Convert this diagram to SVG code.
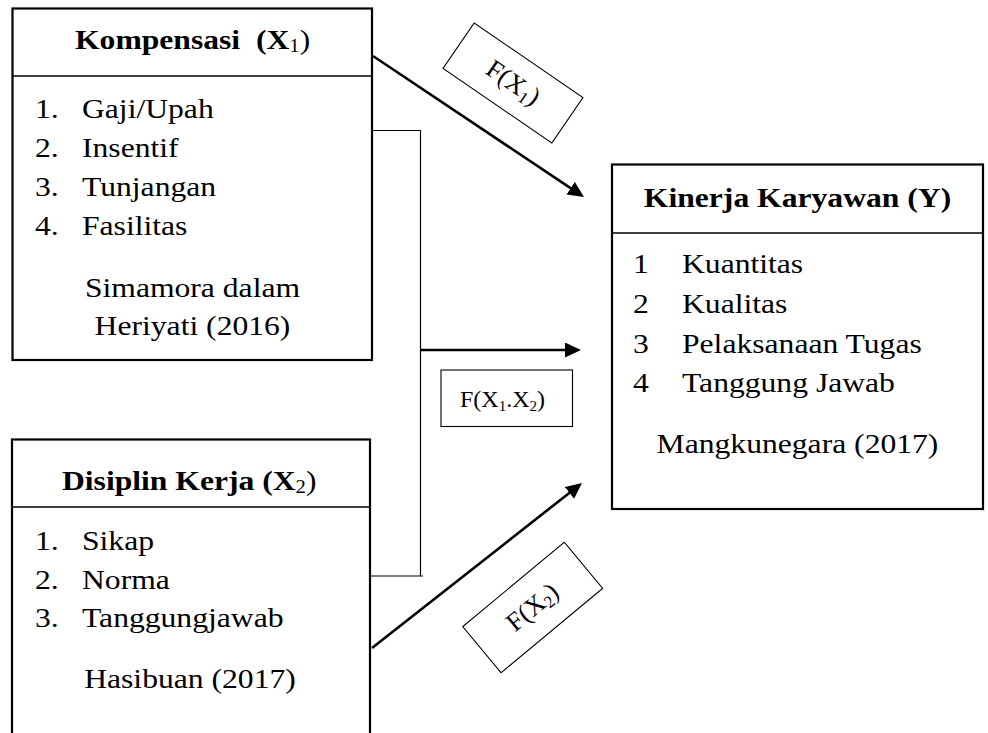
<svg xmlns="http://www.w3.org/2000/svg" width="988" height="733" viewBox="0 0 988 733">
<style>
.box{fill:#fff;stroke:#000;stroke-width:2.2}
.div{stroke:#000;stroke-width:1.3;fill:none}
.thin{stroke:#000;stroke-width:1.2;fill:none}
.arr{stroke:#000;stroke-width:2.6;fill:none}
.lbl{fill:#fff;stroke:#000;stroke-width:1.1}
text{font-family:"Liberation Serif","Times New Roman",serif;font-size:27.5px;fill:#000;white-space:pre}
.b{font-weight:bold}
.n{font-weight:normal}
.sub{font-size:18px;font-weight:normal}
.lt{font-size:24px}
.ls{font-size:15px}
.rt{font-size:26px}
.rs{font-size:17px}
</style>
<defs>
<marker id="ah" markerUnits="userSpaceOnUse" markerWidth="18" markerHeight="16" refX="8" refY="7.5" orient="auto">
<path d="M0,0 L16,7.5 L0,15 z" fill="#000"/>
</marker>
</defs>

<g id="connectors">
<path class="thin" d="M372,130.5 H420.5 V576 M370,576 H423"/>
<line class="arr" x1="373" y1="56" x2="577.3" y2="192.6" marker-end="url(#ah)"/>
<line class="arr" x1="421" y1="350" x2="573" y2="350" marker-end="url(#ah)"/>
<line class="arr" x1="372" y1="648" x2="575.7" y2="487.9" marker-end="url(#ah)"/>
</g>

<g id="node-kompensasi">
<rect class="box" x="12.5" y="8.5" width="359.5" height="351.5"/>
<line class="div" x1="12.5" y1="76" x2="372" y2="76"/>
<text class="b" transform="translate(75 49) scale(1.15 1)">Kompensasi  (X<tspan class="sub" dy="3">1</tspan><tspan class="n" dy="-3">)</tspan></text>
<text transform="translate(35 118) scale(1.15 1)">1.</text>
<text transform="translate(82 118) scale(1.15 1)">Gaji/Upah</text>
<text transform="translate(35 157) scale(1.15 1)">2.</text>
<text transform="translate(82 157) scale(1.15 1)">Insentif</text>
<text transform="translate(35 196) scale(1.15 1)">3.</text>
<text transform="translate(82 196) scale(1.15 1)">Tunjangan</text>
<text transform="translate(35 235) scale(1.15 1)">4.</text>
<text transform="translate(82 235) scale(1.15 1)">Fasilitas</text>
<text text-anchor="middle" transform="translate(192.5 297) scale(1.15 1)">Simamora dalam</text>
<text text-anchor="middle" transform="translate(192.5 335) scale(1.15 1)">Heriyati (2016)</text>
</g>

<g id="node-disiplin">
<rect class="box" x="12" y="439.5" width="358" height="300"/>
<line class="div" x1="12" y1="507" x2="370" y2="507"/>
<text class="b" transform="translate(62 490) scale(1.15 1)">Disiplin Kerja (X<tspan class="sub" dy="3">2</tspan><tspan class="n" dy="-3">)</tspan></text>
<text transform="translate(35 550) scale(1.15 1)">1.</text>
<text transform="translate(82 550) scale(1.15 1)">Sikap</text>
<text transform="translate(35 588.5) scale(1.15 1)">2.</text>
<text transform="translate(82 588.5) scale(1.15 1)">Norma</text>
<text transform="translate(35 627) scale(1.15 1)">3.</text>
<text transform="translate(82 627) scale(1.15 1)">Tanggungjawab</text>
<text text-anchor="middle" transform="translate(190 688) scale(1.15 1)">Hasibuan (2017)</text>
</g>

<g id="node-kinerja">
<rect class="box" x="612" y="164.5" width="371" height="344.5"/>
<line class="div" x1="612" y1="233" x2="983" y2="233"/>
<text class="b" text-anchor="middle" transform="translate(797.5 207) scale(1.15 1)">Kinerja Karyawan (Y)</text>
<text transform="translate(633 273) scale(1.15 1)">1</text>
<text transform="translate(682 273) scale(1.15 1)">Kuantitas</text>
<text transform="translate(633 313) scale(1.15 1)">2</text>
<text transform="translate(682 313) scale(1.15 1)">Kualitas</text>
<text transform="translate(633 353) scale(1.15 1)">3</text>
<text transform="translate(682 353) scale(1.15 1)">Pelaksanaan Tugas</text>
<text transform="translate(633 392) scale(1.15 1)">4</text>
<text transform="translate(682 392) scale(1.15 1)">Tanggung Jawab</text>
<text text-anchor="middle" transform="translate(797.5 453) scale(1.15 1)">Mangkunegara (2017)</text>
</g>

<g id="label-fx1" transform="translate(513 83) rotate(34.5)">
<rect class="lbl" x="-66" y="-27.5" width="132" height="55"/>
<text class="rt" text-anchor="middle" x="0" y="8">F(X<tspan class="rs" dy="4">1</tspan><tspan dy="-4">)</tspan></text>
</g>

<g id="label-fx1x2">
<rect class="lbl" x="441" y="370" width="131.5" height="56.5"/>
<text class="lt" x="460" y="407">F(X<tspan class="ls" dy="4">1</tspan><tspan dy="-4">.X</tspan><tspan class="ls" dy="4">2</tspan><tspan dy="-4">)</tspan></text>
</g>

<g id="label-fx2" transform="translate(532.7 607.5) rotate(-39.7)">
<rect class="lbl" x="-66" y="-30" width="132" height="60"/>
<text class="rt" text-anchor="middle" x="0" y="8">F(X<tspan class="rs" dy="4">2</tspan><tspan dy="-4">)</tspan></text>
</g>
</svg>
